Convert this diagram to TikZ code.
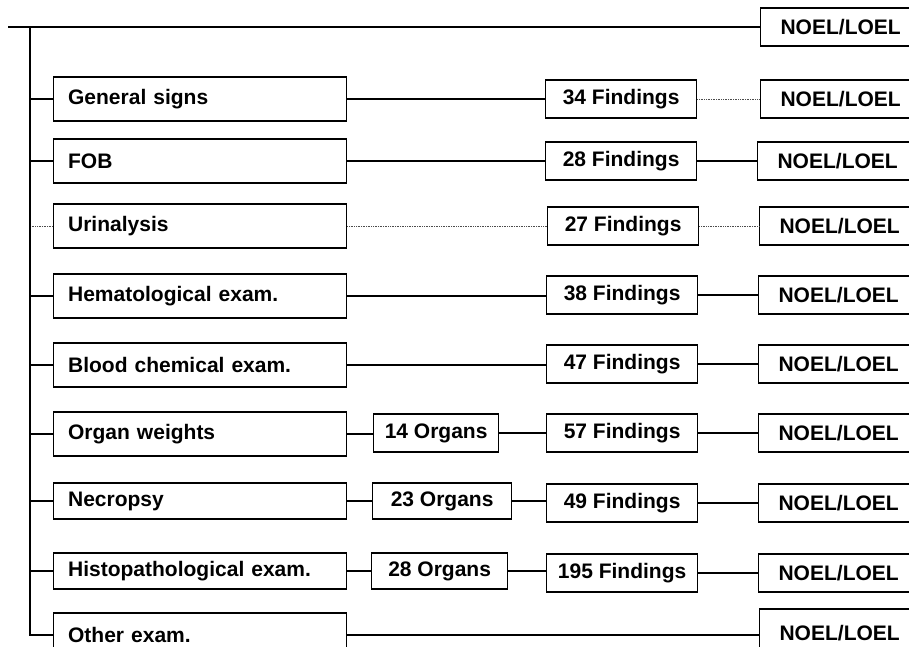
\documentclass[tikz,border=0pt]{standalone}
\usepackage{fontspec}
\setmainfont{Liberation Sans}
\begin{document}
\begin{tikzpicture}[x=1pt, y=-1pt, line width=1.3pt,
  caja/.style={draw, anchor=west, inner sep=0pt, minimum height=38pt,
    font=\bfseries\fontsize{21}{25}\selectfont},
  examen/.style={caja, minimum width=293pt, minimum height=44pt, text width=264pt, align=left},
  organos/.style={caja, minimum width=132pt},
  hallazgos/.style={caja, minimum width=151pt},
  noel/.style={caja, minimum width=160pt},
  tenue/.style={line width=0.7pt, densely dotted, black!70}]
\useasboundingbox (0,0) rectangle (909,646);

% Linea superior y tronco
\coordinate (ini) at (8,27);
\coordinate (tronco) at (30,27);
\node[noel] (n0) at (760,27) {NOEL/LOEL};
\draw (ini) -- (n0);

% Signos generales
\node[examen] (gs) at (53,99) {General signs};
\node[hallazgos] (f1) at (545,99) {34 Findings};
\node[noel] (n1) at (760,99) {NOEL/LOEL};
\draw (tronco |- gs) -- (gs);
\draw (gs) -- (f1);
\draw[tenue] (f1) -- (n1);

% FOB
\node[examen] (fob) at (53,161) {FOB};
\node[hallazgos] (f2) at (545,161) {28 Findings};
\node[noel] (n2) at (757,161) {NOEL/LOEL};
\draw (tronco |- fob) -- (fob);
\draw (fob) -- (f2);
\draw (f2) -- (n2);

% Orina
\node[examen] (uri) at (53,226) {Urinalysis};
\node[hallazgos] (f3) at (547,226) {27 Findings};
\node[noel] (n3) at (759,226) {NOEL/LOEL};
\draw[tenue] (tronco |- uri) -- (uri);
\draw[tenue] (uri) -- (f3);
\draw[tenue] (f3) -- (n3);

% Hematologia
\node[examen] (hem) at (53,296) {Hematological exam.};
\node[hallazgos] (f4) at (546,295) {38 Findings};
\node[noel] (n4) at (758,295) {NOEL/LOEL};
\draw (tronco |- hem) -- (hem);
\draw (hem) -- (hem -| f4.west);
\draw (f4) -- (n4);

% Bioquimica
\node[examen] (bio) at (53,365) {Blood chemical exam.};
\node[hallazgos] (f5) at (546,364) {47 Findings};
\node[noel] (n5) at (758,364) {NOEL/LOEL};
\draw (tronco |- bio) -- (bio);
\draw (bio) -- (bio -| f5.west);
\draw (f5) -- (n5);

% Pesos de organos
\node[examen] (pes) at (53,434) {Organ weights};
\node[organos, minimum width=125pt] (o1) at (373,433) {14 Organs};
\node[hallazgos] (f6) at (546,433) {57 Findings};
\node[noel] (n6) at (758,433) {NOEL/LOEL};
\draw (tronco |- pes) -- (pes);
\draw (pes) -- (pes -| o1.west);
\draw (o1) -- (f6);
\draw (f6) -- (n6);

% Necropsia
\node[examen, minimum height=36pt] (nec) at (53,501) {Necropsy};
\node[organos, minimum width=139pt, minimum height=36pt] (o2) at (372,501) {23 Organs};
\node[hallazgos] (f7) at (546,503) {49 Findings};
\node[noel] (n7) at (758,503) {NOEL/LOEL};
\draw (tronco |- nec) -- (nec);
\draw (nec) -- (o2);
\draw (o2) -- (o2 -| f7.west);
\draw (f7) -- (n7);

% Histopatologia
\node[examen, minimum height=36pt] (his) at (53,571) {Histopathological exam.};
\node[organos, minimum width=136pt, minimum height=36pt] (o3) at (371,571) {28 Organs};
\node[hallazgos] (f8) at (546,573) {195 Findings};
\node[noel] (n8) at (758,573) {NOEL/LOEL};
\draw (tronco |- his) -- (his);
\draw (his) -- (o3);
\draw (o3) -- (o3 -| f8.west);
\draw (f8) -- (n8);

% Otros examenes
\node[examen] (otr) at (53,635) {Other exam.};
\node[noel, minimum height=48pt] (n9) at (759,633) {NOEL/LOEL};
\draw (tronco) -- (tronco |- otr) -- (otr);
\draw (otr) -- (otr -| n9.west);
\end{tikzpicture}
\end{document}
